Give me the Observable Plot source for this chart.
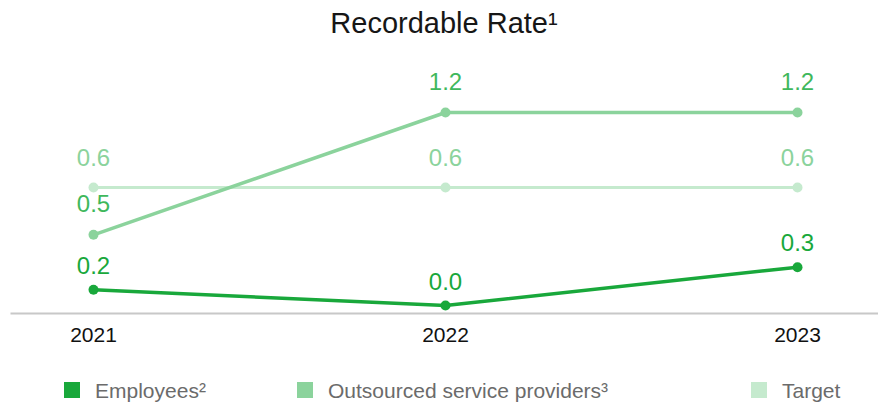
<!DOCTYPE html>
<html>
<head>
<meta charset="utf-8">
<script src="https://cdn.jsdelivr.net/npm/d3@7"></script>
<script src="https://cdn.jsdelivr.net/npm/@observablehq/plot@0.6"></script>
<style>
  html, body { margin: 0; padding: 0; background: #fff; }
  body { width: 878px; height: 403px; position: relative; overflow: hidden; font-family: "Liberation Sans", Arial, sans-serif; }
  #title { position: absolute; left: 5px; top: 9px; width: 878px; text-align: center; font-size: 29px; line-height: 29px; color: #161616; }
  #chart { position: absolute; left: 0; top: 50px; }
  .leg { position: absolute; top: 380px; font-size: 21px; line-height: 21px; color: #6b6b6b; white-space: nowrap; }
  .leg i { position: absolute; left: 0; top: 2px; width: 16px; height: 16px; }
  .leg span { position: absolute; top: 0; }
</style>
</head>
<body>
<div id="title"></div>
<div id="chart"></div>
<div id="legend"></div>
<script>
const title = "Recordable Rate\u00b9";
const years = ["2021", "2022", "2023"];
const employees = [0.2, 0.0, 0.3];
const outsourced = [0.5, 1.2, 1.2];
const target = [0.6, 0.6, 0.6];
const seriesNames = ["Employees\u00b2", "Outsourced service providers\u00b3", "Target"];
const lineColors = ["#19a83b", "#8bd39c", "#c5eace"];
const labelColors = ["#19a83b", "#3fb85c", "#8bd39c"];

document.getElementById("title").textContent = title;

const seriesValues = [employees, outsourced, target];
const data = seriesValues.flatMap((vals, s) =>
  vals.map((v, i) => ({ year: years[i], value: v, series: seriesNames[s], s }))
);

// The reference places values on a non-uniform (piecewise) vertical scale:
// warp value -> visual height before the linear y scale
const yBreaks = [0, 0.2, 0.3, 0.5, 0.6, 1.2];
const yWarp = [0, 15.7, 38.3, 70.7, 118, 193];
const warp = d3.scaleLinear().domain(yBreaks).range(yWarp);

const labelDy = [-16, -23, -22];

const marks = [
  Plot.frame({ anchor: "bottom", stroke: "#c8c8c8", strokeWidth: 2 }),
  Plot.axisX({ tickSize: 0, tickPadding: 14, fontSize: 21, color: "#111", label: null }),
];
// draw back-to-front: target, outsourced, employees
[2, 1, 0].forEach(s => {
  const d = data.filter(r => r.s === s);
  marks.push(
    Plot.line(d, { x: "year", y: "value", stroke: lineColors[s], strokeWidth: s === 2 ? 3 : 3.5 }),
    Plot.dot(d, { x: "year", y: "value", fill: lineColors[s], r: 5 })
  );
});
[2, 1, 0].forEach(s => {
  const d = data.filter(r => r.s === s);
  marks.push(
    Plot.text(d, { x: "year", y: "value", text: r => r.value.toFixed(1), fill: labelColors[s], fontSize: 24, dy: labelDy[s], lineAnchor: "bottom" })
  );
});

const chart = Plot.plot({
  width: 878,
  height: 305,
  marginLeft: 11,
  marginRight: 1,
  marginTop: 0,
  marginBottom: 42,
  style: { fontFamily: "'Liberation Sans', Arial, sans-serif", background: "transparent" },
  x: { type: "point", domain: years, range: [92, 797], padding: 0 },
  y: { type: "linear", transform: v => warp(v), domain: [0, 193], range: [255, 62], axis: null },
  marks
});
document.getElementById("chart").appendChild(chart);

const legendX = [64, 297, 751];
const legend = document.getElementById("legend");
seriesNames.forEach((name, i) => {
  const el = document.createElement("div");
  el.className = "leg";
  el.style.left = legendX[i] + "px";
  const sw = document.createElement("i");
  sw.style.background = lineColors[i];
  const tx = document.createElement("span");
  tx.style.left = "31px";
  tx.textContent = name;
  el.appendChild(sw);
  el.appendChild(tx);
  legend.appendChild(el);
});
</script>
</body>
</html>
